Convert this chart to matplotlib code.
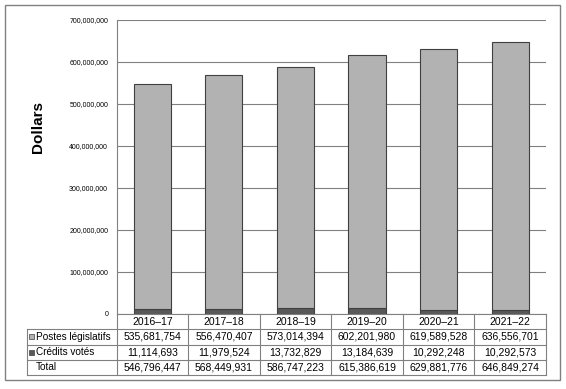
import matplotlib.pyplot as plt
from matplotlib.patches import Rectangle
from matplotlib.lines import Line2D
import numpy as np

plt.rcParams['font.family'] = ['Liberation Sans', 'DejaVu Sans']

years = ['2016\u201317', '2017\u201318', '2018\u201319', '2019\u201320', '2020\u201321', '2021\u201322']
postes = [535681754, 556470407, 573014394, 602201980, 619589528, 636556701]
credits = [11114693, 11979524, 13732829, 13184639, 10292248, 10292573]
totals = [546796447, 568449931, 586747223, 615386619, 629881776, 646849274]
row_names = ['Postes législatifs', 'Crédits votés', 'Total']

light = '#b2b2b2'
dark = '#595959'
edge = '#404040'
grid = '#808080'

W, H = 566, 389
fig = plt.figure(figsize=(W / 100, H / 100), dpi=100)


def fx(px):
    return px / W


def fy(py):
    return 1 - py / H


# plot area in pixels
left, right, top, bottom = 116.5, 546, 19.5, 314
ax = fig.add_axes([fx(left), fy(bottom), (right - left) / W, (bottom - top) / H])

x = np.arange(len(years))
ax.bar(x, credits, width=0.52, color=dark, edgecolor=edge, linewidth=0.8, zorder=3)
ax.bar(x, postes, width=0.52, bottom=credits, color=light, edgecolor=edge, linewidth=0.8, zorder=3)

ax.set_xlim(-0.5, len(years) - 0.5)
ax.set_ylim(0, 700000000)
ax.set_yticks(np.arange(0, 700000001, 100000000))
ax.set_yticklabels(['0'] + ['{:,}'.format(v) for v in range(100000000, 700000001, 100000000)], fontsize=5)
ax.yaxis.grid(True, color=grid, linewidth=0.8, zorder=0)
ax.tick_params(axis='y', length=0, pad=6)
ax.set_xticks([])
for s in ['top', 'right', 'bottom']:
    ax.spines[s].set_visible(False)
ax.spines['left'].set_color(grid)
ax.spines['left'].set_linewidth(0.8)

fig.text(fx(38), fy(127), 'Dollars', rotation=90, fontsize=11, fontweight='bold',
         ha='center', va='center')

# data table under the chart, drawn by hand
cell_text = [['{:,}'.format(v) for v in postes],
             ['{:,}'.format(v) for v in credits],
             ['{:,}'.format(v) for v in totals]]
tab_left = 27
tab_bottom = 375
ncol = len(years)
col_w = (right - left) / ncol
row_h = (tab_bottom - bottom) / 4
col_edges = [left + k * col_w for k in range(ncol + 1)]
row_edges = [bottom + k * row_h for k in range(5)]


def hline(y, x0, x1):
    fig.lines.append(Line2D([fx(x0), fx(x1)], [fy(y), fy(y)], transform=fig.transFigure,
                            color=grid, linewidth=0.8))


def vline(xp, y0, y1):
    fig.lines.append(Line2D([fx(xp), fx(xp)], [fy(y0), fy(y1)], transform=fig.transFigure,
                            color=grid, linewidth=0.8))


hline(row_edges[0], left, right)
for y in row_edges[1:]:
    hline(y, tab_left, right)
vline(tab_left, row_edges[1], row_edges[4])
for xp in col_edges:
    vline(xp, row_edges[0], row_edges[4])

for j, yr in enumerate(years):
    fig.text(fx(left + (j + 0.5) * col_w), fy(bottom + 0.5 * row_h), yr, fontsize=7.5,
             ha='center', va='center')
for i, row in enumerate(cell_text):
    yc = bottom + (i + 1.5) * row_h
    fig.text(fx(36), fy(yc), row_names[i], fontsize=7.2, ha='left', va='center')
    for j, val in enumerate(row):
        fig.text(fx(left + (j + 0.5) * col_w), fy(yc), val, fontsize=7.5, ha='center', va='center')

# legend squares in the row labels
for i, col in enumerate([light, dark]):
    yc = bottom + row_h * (i + 1.5)
    fig.patches.append(Rectangle((fx(29), fy(yc + 2.5)), 5 / W, 5 / H,
                                 transform=fig.transFigure, facecolor=col,
                                 edgecolor=edge, linewidth=0.5))

# outer frame
fig.patches.append(Rectangle((fx(5), fy(380)), 555 / W, 375 / H, transform=fig.transFigure,
                             facecolor='none', edgecolor=grid, linewidth=1))

fig.savefig('out.png', dpi=100)
